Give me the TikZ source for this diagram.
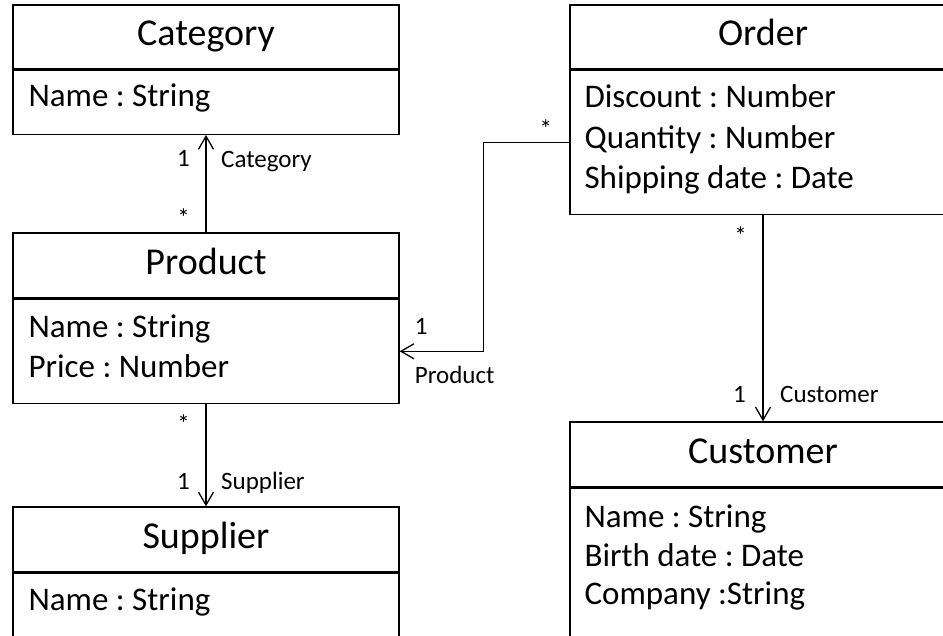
\documentclass[tikz,border=0pt]{standalone}
\usepackage{fontspec}
\setmainfont{Carlito}
\usetikzlibrary{arrows.meta,calc}
\frenchspacing
\tikzset{
classhead/.style={draw, line width=1.3pt, minimum width=386pt, minimum height=64pt, inner sep=0pt,
  text height=25pt, text depth=8pt, font=\fontsize{38}{45}\selectfont},
classbody/.style={draw, line width=1.3pt, minimum width=386pt, inner sep=0pt, anchor=north},
attr/.style={anchor=base west, inner sep=0pt, font=\fontsize{33}{40}\selectfont},
mult/.style={inner sep=0pt, font=\fontsize{25}{30}\selectfont},
assoc/.style={line width=1.3pt, -{Straight Barb[length=13pt, width=15pt]}}
}
\begin{document}
\begin{tikzpicture}[x=1pt, y=-1pt]
\useasboundingbox (0,0) rectangle (943,635);
\clip (0,0) rectangle (943,635);
\fill[white] (0,0) rectangle (943,635);

% classes
\node[classhead] (cat) at (206,37) {Category};
\node[classbody, minimum height=64pt] (catbody) at (cat.south) {};
\node[classhead, minimum height=65pt] (prod) at (206,265.5) {Product};
\node[classbody, minimum height=104pt] (prodbody) at (prod.south) {};
\node[classhead, minimum height=65pt] (sup) at (206,539.5) {Supplier};
\node[classbody, minimum height=120pt] (supbody) at (sup.south) {};
\node[classhead] (ord) at (763,37) {Order};
\node[classbody, minimum height=144pt] (ordbody) at (ord.south) {};
\node[classhead, minimum height=65pt] (cust) at (763,454.5) {Customer};
\node[classbody, minimum height=160pt] (custbody) at (cust.south) {};

% attributes
\node[attr] (catattr1) at ($(catbody.north west)+(16,37)$) {Name : String};
\foreach \txt [count=\i] in {Name : String, Price : Number}
  \node[attr] (prodattr\i) at ($(prodbody.north west)+(16,{39+40*(\i-1)})$) {\txt};
\node[attr] (supattr1) at ($(supbody.north west)+(16,38)$) {Name : String};
\foreach \txt [count=\i] in {Discount : Number, Quantity : Number, Shipping date : Date}
  \node[attr] (ordattr\i) at ($(ordbody.north west)+(15,{38+40.5*(\i-1)})$) {\txt};
\foreach \txt [count=\i] in {Name : String, Birth date : Date, Company :String}
  \node[attr] (custattr\i) at ($(custbody.north west)+(15,{40+38.5*(\i-1)})$) {\txt};

% associations
\draw[assoc] (prod.north) -- (catbody.south);
\node[mult, anchor=base east] (catmany) at ($(prod.north)+(-16,-6)$) {*};
\node[mult, anchor=base east] (catone) at ($(catbody.south)+(-16,32)$) {1};
\node[mult, anchor=base west] (catrole) at ($(catbody.south)+(15,33)$) {Category};

\draw[assoc] (prodbody.south) -- (sup.north);
\node[mult, anchor=base east] (supmany) at ($(prodbody.south)+(-16,29)$) {*};
\node[mult, anchor=base east] (supone) at ($(sup.north)+(-16,-17)$) {1};
\node[mult, anchor=base west] (suprole) at ($(sup.north)+(15,-17)$) {Supplier};

\draw[assoc] (ordbody.south) -- (cust.north);
\node[mult, anchor=base east] (custmany) at ($(ordbody.south)+(-16,30)$) {*};
\node[mult, anchor=base east] (custone) at ($(cust.north)+(-17,-19)$) {1};
\node[mult, anchor=base west] (custrole) at ($(cust.north)+(17,-19)$) {Customer};

\draw[assoc] (ordbody.west) -- ++(-86,0) |- (prodbody.east);
\node[mult, anchor=base east] (prodmany) at ($(ordbody.west)+(-17,-5)$) {*};
\node[mult, anchor=base west] (prodone) at ($(prodbody.east)+(15,-17)$) {1};
\node[mult, anchor=base west] (prodrole) at ($(prodbody.east)+(15,32)$) {Product};

\end{tikzpicture}
\end{document}
